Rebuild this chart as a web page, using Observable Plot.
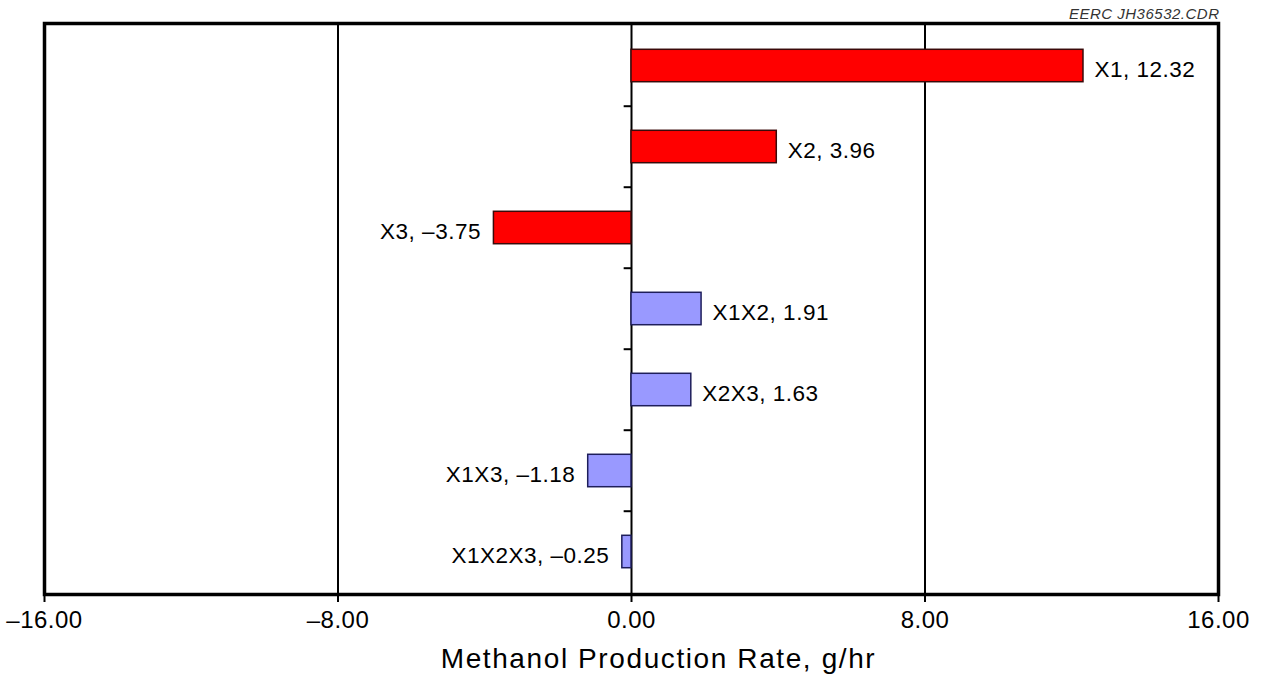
<!DOCTYPE html>
<html>
<head>
<meta charset="utf-8">
<script src="https://cdn.jsdelivr.net/npm/d3@7"></script>
<script src="https://cdn.jsdelivr.net/npm/@observablehq/plot@0.6"></script>
<style>
  html, body { margin: 0; padding: 0; background: #fff; }
</style>
</head>
<body>
<div id="chart"></div>
<script>
// ---- data ----
const factors = ["X1", "X2", "X3", "X1X2", "X2X3", "X1X3", "X1X2X3"];
const effects = [12.32, 3.96, -3.75, 1.91, 1.63, -1.18, -0.25];
const kinds = ["main", "main", "main", "interaction", "interaction", "interaction", "interaction"];
const xTicks = [-16, -8, 0, 8, 16];
const gridValues = [-8, 0, 8];
const xTitle = "Methanol Production Rate, g/hr";
const fileTag = "EERC JH36532.CDR";

const fmt = v => (v < 0 ? "\u2013" : "") + Math.abs(v).toFixed(2);
const rows = factors.map((f, i) => ({name: f, value: effects[i], kind: kinds[i], label: `${f}, ${fmt(effects[i])}`}));

const W = 1263, H = 681;
const mTop = 23, mBottom = 87, mLeft = 44, mRight = 45;
const step = (H - mTop - mBottom) / factors.length;
const barH = 33;
const inset = (step - barH) / 2;

const plot = Plot.plot({
  width: W,
  height: H,
  marginTop: mTop,
  marginBottom: mBottom,
  marginLeft: mLeft,
  marginRight: mRight,
  style: {fontFamily: "'Liberation Sans', Arial, Helvetica, sans-serif", background: "#fff", color: "#000", letterSpacing: "0.5px", overflow: "visible"},
  x: {domain: [-16, 16], ticks: xTicks, tickFormat: fmt, label: null},
  y: {domain: factors, padding: 0, axis: null},
  color: {domain: ["main", "interaction"], range: ["#ff0000", "#9999ff"]},
  marks: [
    Plot.ruleX(gridValues, {stroke: "#000", strokeWidth: 2}),
    Plot.barX(rows, {
      x: "value", y: "name", fill: "kind",
      stroke: d => d.kind === "main" ? "#3a0a0a" : "#1e1e5a",
      strokeWidth: 1.5,
      insetTop: inset, insetBottom: inset
    }),
    Plot.ruleY(factors.slice(1), {y: d => d, x1: -0.2, x2: 0, dy: -step / 2, stroke: "#000", strokeWidth: 2}),
    Plot.text(rows.filter(d => d.value >= 0), {x: "value", y: "name", text: "label", textAnchor: "start", dx: 11, dy: 4, fontSize: 22.5, fill: "#000"}),
    Plot.text(rows.filter(d => d.value < 0), {x: "value", y: "name", text: "label", textAnchor: "end", dx: -13, dy: 4, fontSize: 22.5, fill: "#000"}),
    Plot.frame({stroke: "#000", strokeWidth: 3.5}),
    Plot.axisX({ticks: xTicks, tickFormat: fmt, tickSize: 8, tickPadding: 8, fontSize: 24, strokeWidth: 2, label: null}),
    Plot.text([xTitle], {frameAnchor: "bottom", lineAnchor: "middle", dy: 65, dx: 27, fontSize: 28, fill: "#000"}),
    Plot.text([fileTag], {frameAnchor: "top-right", lineAnchor: "middle", textAnchor: "end", dy: -9, dx: 1, fontSize: 15, fontStyle: "italic", fill: "#333"})
  ]
});

plot.querySelectorAll("text").forEach(t => {
  if (t.textContent === xTitle) t.setAttribute("letter-spacing", "1.6px");
});
document.getElementById("chart").appendChild(plot);
</script>
</body>
</html>
